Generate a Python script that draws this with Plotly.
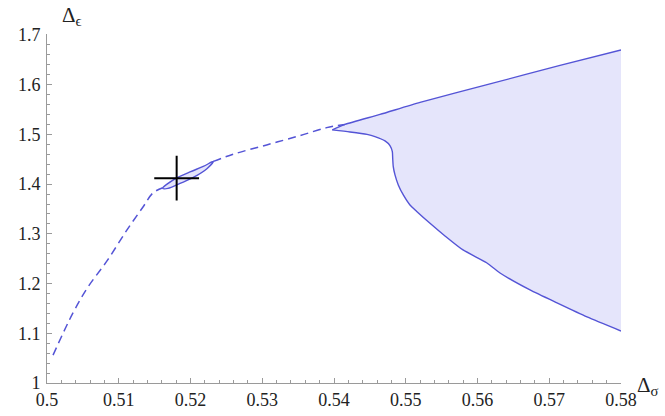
import plotly.graph_objects as go

# ---- data ----
upper_x = [0.53976, 0.54153, 0.54641, 0.55199, 0.56174, 0.57150, 0.58000]
upper_y = [1.5091, 1.5201, 1.5402, 1.5644, 1.6016, 1.6388, 1.6700]

lower_x = [0.53976, 0.54223, 0.54460, 0.54571, 0.54711, 0.54780, 0.54813, 0.54818,
           0.54826, 0.54850, 0.54896, 0.54966, 0.55059, 0.55153, 0.55338, 0.55547,
           0.55798, 0.56132, 0.56314, 0.56732, 0.57108, 0.57526, 0.58000]
lower_y = [1.5091, 1.5050, 1.5000, 1.4956, 1.4869, 1.4775, 1.4654, 1.4521,
           1.4352, 1.4185, 1.3984, 1.3783, 1.3581, 1.3451, 1.3213, 1.2958,
           1.2676, 1.2414, 1.2213, 1.1871, 1.1610, 1.1328, 1.1046]

dash1_x = [0.50084, 0.50362, 0.50571, 0.50836, 0.51115, 0.51338, 0.51477, 0.51613]
dash1_y = [1.0560, 1.1410, 1.1930, 1.2455, 1.3080, 1.3541, 1.3823, 1.3927]
dash2_x = [0.52318, 0.52597, 0.53062, 0.53526, 0.53898, 0.54153]
dash2_y = [1.4457, 1.4602, 1.4789, 1.4976, 1.5137, 1.5201]

ell_x = [0.51613, 0.51808, 0.51993, 0.52178, 0.52318,
         0.52233, 0.52039, 0.51854, 0.51686, 0.51613]
ell_y = [1.3917, 1.4125, 1.4245, 1.4356, 1.4457,
         1.4316, 1.4135, 1.4014, 1.3914, 1.3917]

point_x = [0.51807]
point_y = [1.4119]

x_ticks = [0.50, 0.51, 0.52, 0.53, 0.54, 0.55, 0.56, 0.57, 0.58]
x_labels = ["0.5", "0.51", "0.52", "0.53", "0.54", "0.55", "0.56", "0.57", "0.58"]
y_ticks = [1.0, 1.1, 1.2, 1.3, 1.4, 1.5, 1.6, 1.7]
y_labels = ["1", "1.1", "1.2", "1.3", "1.4", "1.5", "1.6", "1.7"]

LINE = "#5454d6"
FILL = "#e5e5fb"
AXIS = "#9a9a9a"
FONT = "Liberation Serif"
SM = 0.6

fig = go.Figure()

# shaded region: lower curve, then upper curve filled to it
fig.add_trace(go.Scatter(x=lower_x, y=lower_y, mode="lines",
                         line=dict(color=LINE, width=1.4, shape="spline", smoothing=SM),
                         showlegend=False))
fig.add_trace(go.Scatter(x=upper_x, y=upper_y, mode="lines",
                         fill="tonexty", fillcolor=FILL,
                         line=dict(color=LINE, width=1.4, shape="spline", smoothing=SM),
                         showlegend=False))

# dashed curve
fig.add_trace(go.Scatter(x=dash1_x, y=dash1_y, mode="lines",
                         line=dict(color=LINE, width=1.5, dash="8px,5px",
                                   shape="spline", smoothing=1),
                         showlegend=False))
fig.add_trace(go.Scatter(x=dash2_x, y=dash2_y, mode="lines",
                         line=dict(color=LINE, width=1.5, dash="8px,5px",
                                   shape="spline", smoothing=1),
                         showlegend=False))

# small island
fig.add_trace(go.Scatter(x=ell_x, y=ell_y, mode="lines", fill="toself",
                         fillcolor=FILL,
                         line=dict(color=LINE, width=1.4, shape="spline", smoothing=1),
                         showlegend=False))

# cross marker
fig.add_trace(go.Scatter(x=point_x, y=point_y, mode="markers",
                         marker=dict(symbol="cross-thin", size=32,
                                     line=dict(color="black", width=2)),
                         showlegend=False))

fig.update_xaxes(range=[0.5, 0.58], tickvals=x_ticks, ticktext=x_labels,
                 showline=True, linecolor=AXIS, linewidth=1, showgrid=False,
                 zeroline=False, ticks="inside", ticklen=5, tickcolor=AXIS,
                 ticklabelstandoff=0, automargin=False,
                 tickfont=dict(family=FONT, size=18, color="#222"),
                 minor=dict(dtick=0.002, ticks="inside", ticklen=3,
                            tickcolor=AXIS, showgrid=False))
fig.update_yaxes(range=[1.0, 1.702], tickvals=y_ticks, ticktext=y_labels,
                 showline=True, linecolor=AXIS, linewidth=1, showgrid=False,
                 zeroline=False, ticks="inside", ticklen=5, tickcolor=AXIS,
                 ticklabelstandoff=2, automargin=False,
                 tickfont=dict(family=FONT, size=18, color="#222"),
                 minor=dict(dtick=0.02, ticks="inside", ticklen=3,
                            tickcolor=AXIS, showgrid=False))

fig.add_annotation(xref="paper", yref="paper", x=0.022, y=1.095,
                   xanchor="left", yanchor="top", showarrow=False,
                   text="Δ<sub>ϵ</sub>", font=dict(family=FONT, size=21, color="#222"))
fig.add_annotation(xref="paper", yref="paper", x=1.025, y=-0.052,
                   xanchor="left", yanchor="bottom", showarrow=False,
                   text="Δ<sub>σ</sub>", font=dict(family=FONT, size=21, color="#222"))

fig.update_layout(width=665, height=416, margin=dict(l=47, r=44, t=34, b=33),
                  paper_bgcolor="white", plot_bgcolor="white")

fig.write_html("out.html", config={"displayModeBar": False},
               post_script="document.body.style.margin='0';document.body.style.padding='0';")
